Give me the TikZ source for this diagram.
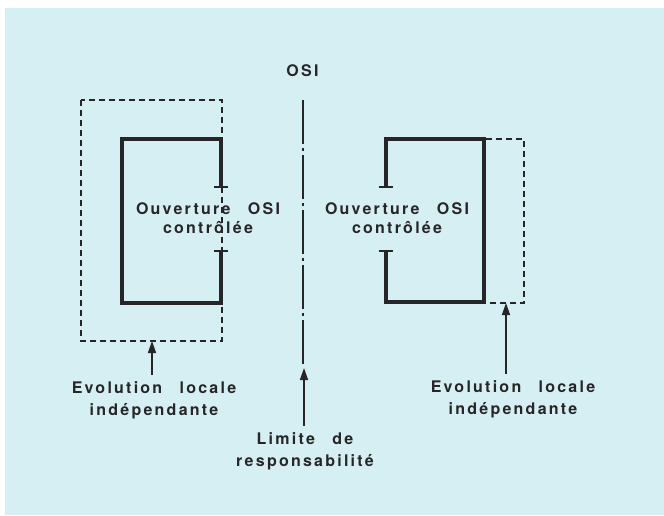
\documentclass[tikz,border=0pt]{standalone}
\usepackage{fontspec}
\setmainfont{TeX Gyre Heros}[LetterSpace=14,WordSpace=2.6]
\usepackage{xcolor}
\usetikzlibrary{arrows.meta}

\definecolor{paper}{RGB}{214,239,242}
\definecolor{ink}{RGB}{38,38,40}

\begin{document}
\begin{tikzpicture}[x=1pt,y=-1pt,
    txt/.style={font=\bfseries\fontsize{16}{19}\selectfont, text=ink, align=center, inner sep=0pt, anchor=base},
    low/.style={txt, font=\bfseries\fontsize{16}{22}\selectfont, outer sep=6pt},
    wall/.style={ink, line width=3.4pt, line join=miter},
    zone/.style={ink, line width=1.1pt, dash pattern=on 6pt off 4pt},
    pointer/.style={ink, line width=1.4pt, -{Triangle[length=12pt,width=8pt]}}]

    % Paper
    \useasboundingbox (0,0) rectangle (664,515);
    \fill[white] (0,0) rectangle (664,515);
    \fill[paper] (5,8) rectangle (664,515);

    % Limit line in the middle
    \node[txt] (osi) at (302.5,76) {OSI};
    \coordinate (limTop) at (303,100);
    \coordinate (limEnd) at (303,365);
    \draw[ink, line width=1.1pt, dash pattern=on 44pt off 4pt on 3pt off 4pt] (limTop) -- (limEnd);

    % Left system
    \draw[zone] (81,100) rectangle (222,341);
    \draw[wall] (221,187) -- (221,139) -- (122,139) -- (122,303) -- (221,303) -- (221,251);
    \draw[wall, line width=2.6pt] (214,187) -- (228,187);
    \draw[wall, line width=2.6pt] (214,251) -- (228,251);
    \node[txt] (ouvL) at (208,233) {Ouverture OSI\\contrôlée};

    % Right system
    \draw[zone] (484,139) rectangle (524,303);
    \draw[wall] (386,187) -- (386,139) -- (484,139) -- (484,302) -- (386,302) -- (386,251);
    \draw[wall, line width=2.6pt] (379,187) -- (393,187);
    \draw[wall, line width=2.6pt] (379,251) -- (393,251);
    \node[txt] (ouvR) at (397,233) {Ouverture OSI\\contrôlée};

    % Labels below (placed at the baseline of their last line)
    \node[low] (evoL) at (154,415) {Evolution locale\\indépendante};
    \node[low] (evoR) at (513,414) {Evolution locale\\indépendante};
    \node[low] (resp) at (305,466) {Limite de\\responsabilité};

    \coordinate (tipL) at (152,341);
    \coordinate (tipR) at (506,303);
    \coordinate (tipM) at (304,368);

    \draw[pointer] (tipL |- evoL.north) -- (tipL);
    \draw[pointer] (tipR |- evoR.north) -- (tipR);
    \draw[pointer] (tipM |- resp.north) -- (tipM);

\end{tikzpicture}
\end{document}
